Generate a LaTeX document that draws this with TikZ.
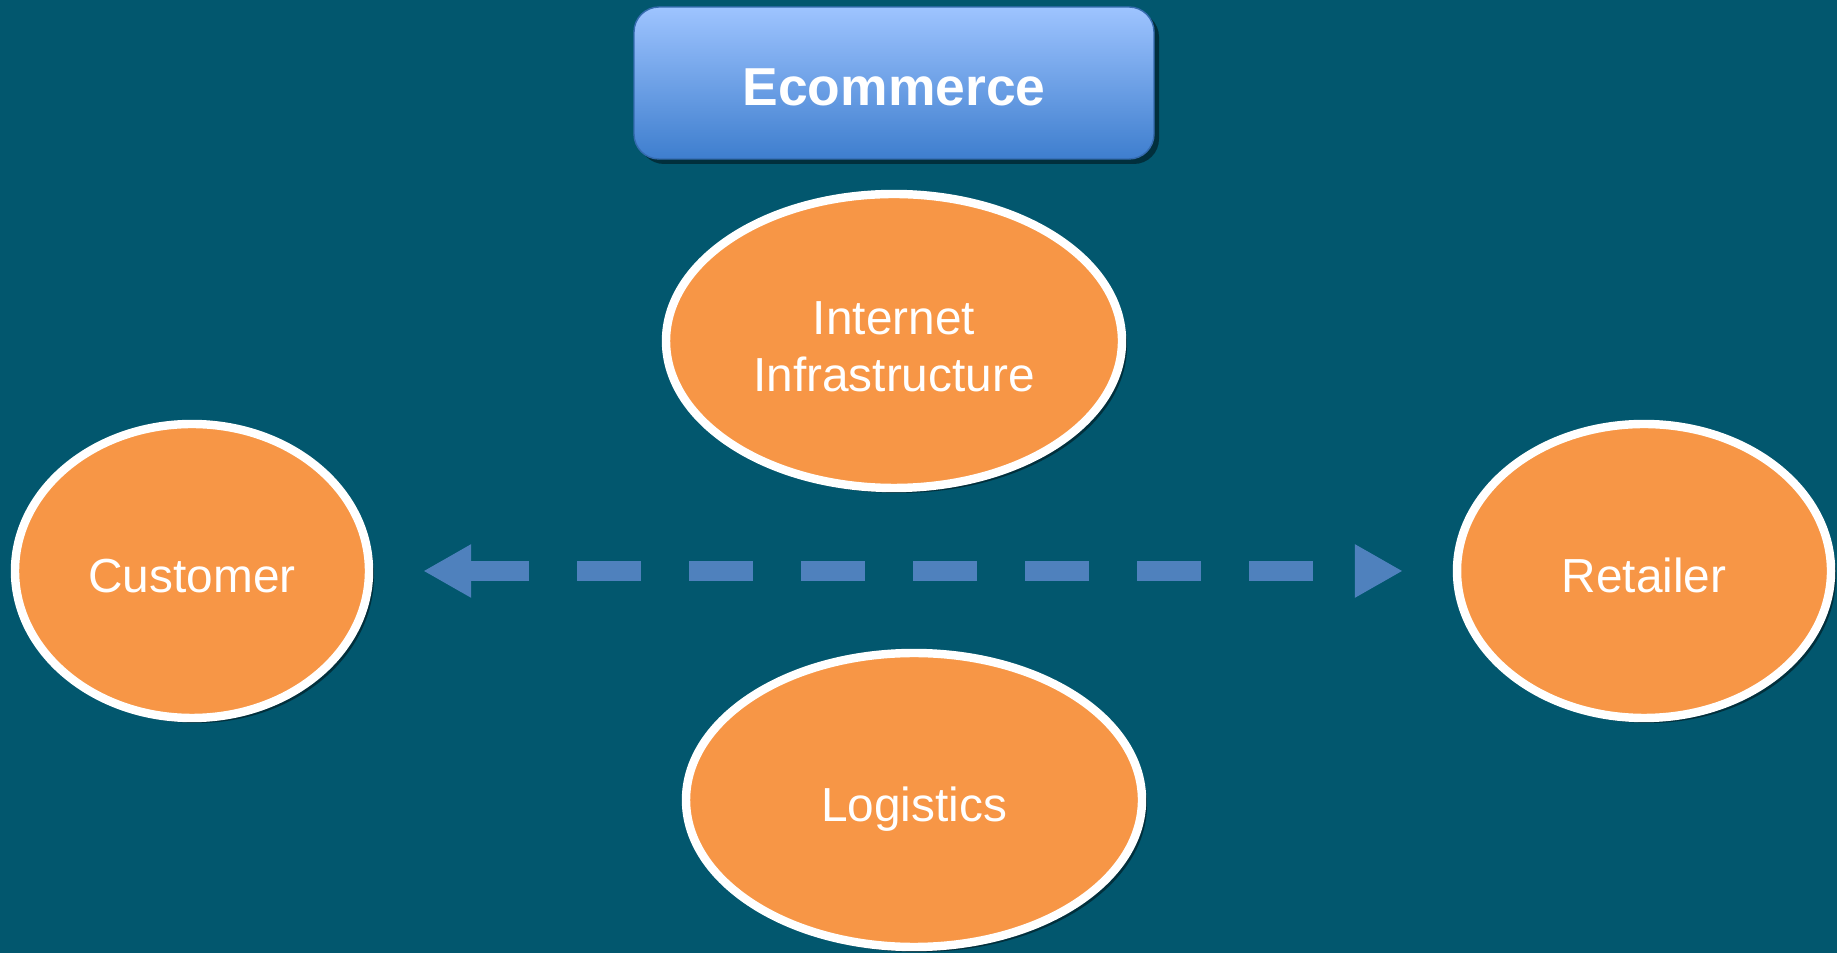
\documentclass[tikz,border=0pt]{standalone}
\usepackage{fontspec}
\setmainfont{Liberation Sans}
\usetikzlibrary{shapes.geometric,arrows.meta,shadows}
\definecolor{bgteal}{RGB}{2,87,110}
\definecolor{blobor}{RGB}{247,150,70}
\definecolor{boxtop}{RGB}{158,196,255}
\definecolor{boxbot}{RGB}{62,126,206}
\definecolor{arrowblue}{RGB}{79,129,189}

\begin{document}
\begin{tikzpicture}[blob/.style={ellipse,fill=blobor,draw=white,line width=2.4pt,
      text=white,align=center,font=\fontsize{13.6}{16.3}\selectfont,
      minimum height=2.94cm,inner sep=0pt,text height=12.4pt,text depth=0pt,
      drop shadow={shadow xshift=0.05cm,shadow yshift=-0.05cm,opacity=0.45,fill=black}},
    link/.style={draw=arrowblue,line width=0.2cm,
      dash pattern=on 0.64cm off 0.48cm,dash phase=0.03cm,
      {Triangle[length=0.48cm,width=0.5cm]}-{Triangle[length=0.48cm,width=0.5cm]},
      shorten <=0.5cm,shorten >=0.5cm}]
    % background
    \fill [bgteal] (0,0) rectangle (18.37,9.53);
    \useasboundingbox (0,0) rectangle (18.37,9.53);

    % title
    \node [rectangle,rounded corners=0.25cm,top color=boxtop,bottom color=boxbot,
           draw=boxbot!85!black,thin,minimum width=5.2cm,minimum height=1.52cm,
           text=white,font=\fontsize{15.2}{18}\selectfont\bfseries,
           text height=13pt,text depth=0pt,
           drop shadow={shadow xshift=0.05cm,shadow yshift=-0.05cm,opacity=0.45,fill=black}]
           (title) at (8.94,8.70) {Ecommerce};

    % parties
    \node [blob,minimum width=4.56cm,text height=,text depth=] (net) at (8.94,6.12)
          {\rule{0pt}{12.8pt}Internet\\Infrastructure};
    \node [blob,minimum width=3.54cm] (cust) at (1.92,3.82) {Customer};
    \node [blob,minimum width=3.74cm] (ret) at (16.44,3.82) {Retailer};
    \node [blob,minimum width=4.56cm] (logi) at (9.14,1.53) {Logistics};

    % exchange
    \draw [link] (cust) -- (ret);
\end{tikzpicture}
\end{document}
